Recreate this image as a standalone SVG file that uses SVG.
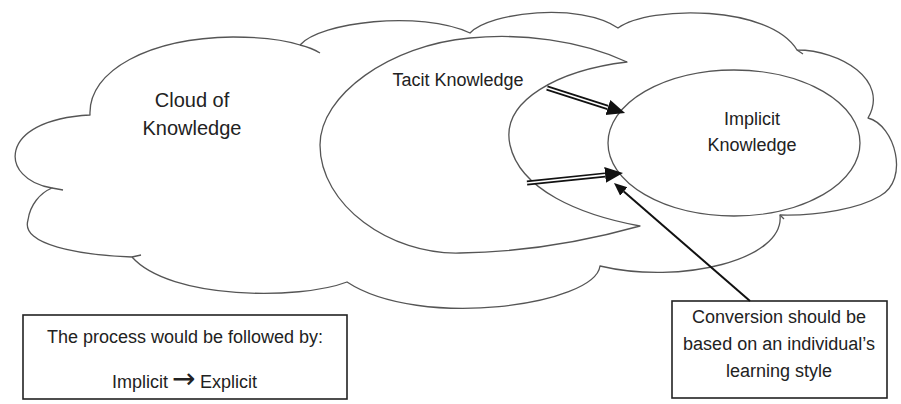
<svg xmlns="http://www.w3.org/2000/svg" width="901" height="404" viewBox="0 0 901 404">
<style>
.shape{fill:#fff;stroke:#555;stroke-width:1.3;stroke-linejoin:round}
.tail{fill:none;stroke:#555;stroke-width:1.3}
.box{fill:#fff;stroke:#222;stroke-width:1.6}
.t{font-family:"Liberation Sans",Arial,sans-serif;fill:#222}
.dbl-out{stroke:#111;stroke-width:5;fill:none}
.dbl-in{stroke:#fff;stroke-width:1.6;fill:none}
.lead{stroke:#111;stroke-width:2;fill:none}
</style>
<defs>
<marker id="bigHead" markerUnits="userSpaceOnUse" viewBox="0 -9 19 18" refX="0" refY="0" markerWidth="19" markerHeight="18" orient="auto">
<path d="M0,-8 L18,0 L0,8 Z" fill="#111"/>
</marker>
<marker id="smallHead" markerUnits="userSpaceOnUse" viewBox="0 -7 14 14" refX="0" refY="0" markerWidth="14" markerHeight="14" orient="auto">
<path d="M0,-5.5 L13,0 L0,5.5 Z" fill="#111"/>
</marker>
</defs>

<g id="cloud">
<path class="shape" d="M90,115 C88,70 150,38 233,37 C265,37 285,40 300,45 C320,22 420,10 470,33 C490,12 580,2 618,28 C650,5 770,5 797,50 C840,50 890,80 868,118 C895,125 910,180 880,196 C860,208 820,216 780,215 C785,260 680,285 600,266 C595,305 420,330 347,282 C300,300 170,300 132,257 C80,255 20,245 28,220 C30,205 40,193 52,188 C0,180 -5,120 90,115 Z"/>
<path class="tail" d="M300,45 Q312,48 320,53 M132,257 L141,255 M52,188 L63,190 M797,50 L803,54 M780,215 L784,219"/>
<text class="t" x="192" y="107" font-size="20" text-anchor="middle">Cloud of</text>
<text class="t" x="192" y="135" font-size="20" text-anchor="middle">Knowledge</text>
</g>

<g id="tacit">
<path class="shape" d="M627,62 C580,40 520,33 470,38 C390,45 320,95 320,145 C320,205 390,255 460,253 C530,252 590,240 640,226 C580,215 520,190 510,145 C500,100 560,70 627,62 Z"/>
<text class="t" x="458" y="86" font-size="18" text-anchor="middle">Tacit Knowledge</text>
</g>

<g id="implicit">
<ellipse class="shape" cx="734" cy="143" rx="126" ry="73"/>
<text class="t" x="752" y="125" font-size="18" text-anchor="middle">Implicit</text>
<text class="t" x="752" y="151" font-size="18" text-anchor="middle">Knowledge</text>
</g>

<g id="process">
<rect class="box" x="23" y="315" width="324" height="84"/>
<text class="t" x="185" y="343" font-size="18" text-anchor="middle">The process would be followed by:</text>
<text class="t" y="388" font-size="18"><tspan x="112">Implicit</tspan><tspan x="172" font-family="DejaVu Sans" font-size="28">→</tspan><tspan x="200">Explicit</tspan></text>
</g>

<g id="conversion">
<rect class="box" x="672" y="301" width="215" height="97"/>
<text class="t" x="779" y="323" font-size="18" text-anchor="middle">Conversion should be</text>
<text class="t" x="779" y="350" font-size="18" text-anchor="middle">based on an individual’s</text>
<text class="t" x="779" y="377" font-size="18" text-anchor="middle">learning style</text>
</g>

<g id="connectors">
<path class="dbl-out" d="M547,88 L607.9,107.5" marker-end="url(#bigHead)"/>
<path class="dbl-in" d="M547,88 L607.9,107.5"/>
<path class="dbl-out" d="M527,183 L605.1,174.9" marker-end="url(#bigHead)"/>
<path class="dbl-in" d="M527,183 L605.1,174.9"/>
<path class="lead" d="M750,301 L623.8,191.5" marker-end="url(#smallHead)"/>
</g>
</svg>
